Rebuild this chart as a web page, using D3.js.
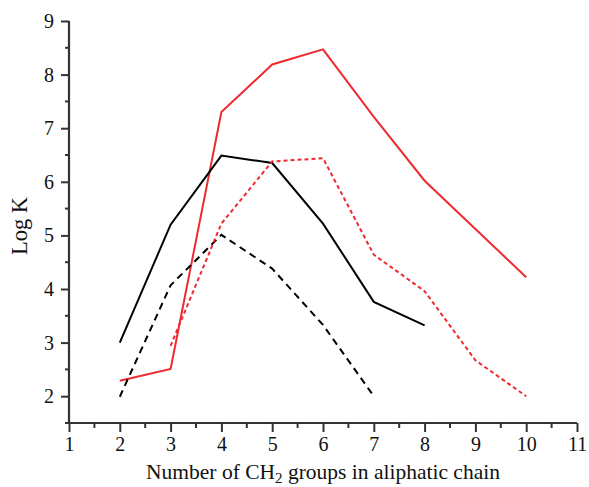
<!DOCTYPE html>
<html>
<head>
<meta charset="utf-8">
<script src="https://cdn.jsdelivr.net/npm/d3@7"></script>
<style>
  body { margin: 0; background: #fff; }
  svg { font-family: "Liberation Serif", "DejaVu Serif", serif; }
</style>
</head>
<body>
<div id="chart-area"></div>
<script>
var width = 589, height = 487;
var margin = {top: 21, right: 12, bottom: 64, left: 69};

// data
var xTicks = [1, 2, 3, 4, 5, 6, 7, 8, 9, 10, 11];
var yTicks = [2, 3, 4, 5, 6, 7, 8, 9];

var redSolidX = [2, 3, 4, 5, 6, 7, 8, 9, 10];
var redSolidY = [2.29, 2.51, 7.30, 8.19, 8.47, 7.21, 6.02, 5.12, 4.22];

var blackSolidX = [2, 3, 4, 5, 6, 7, 8];
var blackSolidY = [3.00, 5.20, 6.49, 6.35, 5.22, 3.76, 3.32];

var blackDashX = [2, 3, 4, 5, 6, 7];
var blackDashY = [1.99, 4.07, 5.01, 4.38, 3.33, 2.00];

var redDashX = [3, 4, 5, 6, 7, 8, 9, 10];
var redDashY = [2.94, 5.22, 6.38, 6.44, 4.64, 3.96, 2.67, 2.00];

var series = [
  {x: redSolidX, y: redSolidY, color: "#ee2a2f", dash: null},
  {x: blackSolidX, y: blackSolidY, color: "#000", dash: null},
  {x: blackDashX, y: blackDashY, color: "#000", dash: "7,5"},
  {x: redDashX, y: redDashY, color: "#ee2a2f", dash: "4,3"}
];

var svg = d3.select("#chart-area")
  .append("svg")
  .attr("width", width)
  .attr("height", height);

var x = d3.scaleLinear()
  .domain([1, 11])
  .range([margin.left, width - margin.right]);

var y = d3.scaleLinear()
  .domain([1.5, 9])
  .range([height - margin.bottom, margin.top]);

// minor ticks
var xMinor = d3.range(1.5, 11, 1);
var yMinor = d3.range(1.5, 9, 1);

var axisColor = "#333";

// x axis
var xAxis = d3.axisBottom(x).tickValues(xTicks).tickSize(9).tickPadding(5).tickFormat(d3.format("d"));
var gx = svg.append("g")
  .attr("transform", "translate(0," + y(1.5) + ")")
  .call(xAxis);
gx.append("g").selectAll("line")
  .data(xMinor)
  .enter().append("line")
  .attr("x1", function(d) { return x(d); })
  .attr("x2", function(d) { return x(d); })
  .attr("y1", 0).attr("y2", 5)
  .attr("stroke", axisColor).attr("stroke-width", 2);

// y axis
var yAxis = d3.axisLeft(y).tickValues(yTicks).tickSize(8).tickPadding(7).tickFormat(d3.format("d"));
var gy = svg.append("g")
  .attr("transform", "translate(" + x(1) + ",0)")
  .call(yAxis);
gy.append("g").selectAll("line")
  .data(yMinor)
  .enter().append("line")
  .attr("y1", function(d) { return y(d); })
  .attr("y2", function(d) { return y(d); })
  .attr("x1", 0).attr("x2", -4)
  .attr("stroke", axisColor).attr("stroke-width", 2);

svg.selectAll(".domain").attr("stroke", axisColor).attr("stroke-width", 2.2);
svg.selectAll(".tick line").attr("stroke", axisColor).attr("stroke-width", 2);
svg.selectAll(".tick text")
  .attr("font-family", "Liberation Serif, serif")
  .attr("font-size", "20px")
  .attr("fill", "#111");

// plain axis lines without outer ticks
gy.select(".domain").attr("d", "M0," + y(9) + "V" + y(1.5));
gx.select(".domain").attr("d", "M" + x(1) + ",0H" + x(11));

// lines
var line = d3.line()
  .x(function(d) { return x(d[0]); })
  .y(function(d) { return y(d[1]); });

series.forEach(function(s) {
  var pts = s.x.map(function(v, i) { return [v, s.y[i]]; });
  svg.append("path")
    .datum(pts)
    .attr("d", line)
    .attr("fill", "none")
    .attr("stroke", s.color)
    .attr("stroke-width", 2)
    .attr("stroke-dasharray", s.dash);
});

// axis labels
var xl = svg.append("text")
  .attr("x", (x(1) + x(11)) / 2)
  .attr("y", 479)
  .attr("text-anchor", "middle")
  .attr("font-size", "21.5px")
  .attr("fill", "#111");
xl.append("tspan").text("Number of CH");
xl.append("tspan").attr("font-size", "15px").attr("dy", 4).text("2");
xl.append("tspan").attr("dy", -4).text(" groups in aliphatic chain");

svg.append("text")
  .attr("transform", "translate(27," + 226 + ") rotate(-90)")
  .attr("text-anchor", "middle")
  .attr("font-size", "22.5px")
  .attr("fill", "#111")
  .text("Log K");
</script>
</body>
</html>
